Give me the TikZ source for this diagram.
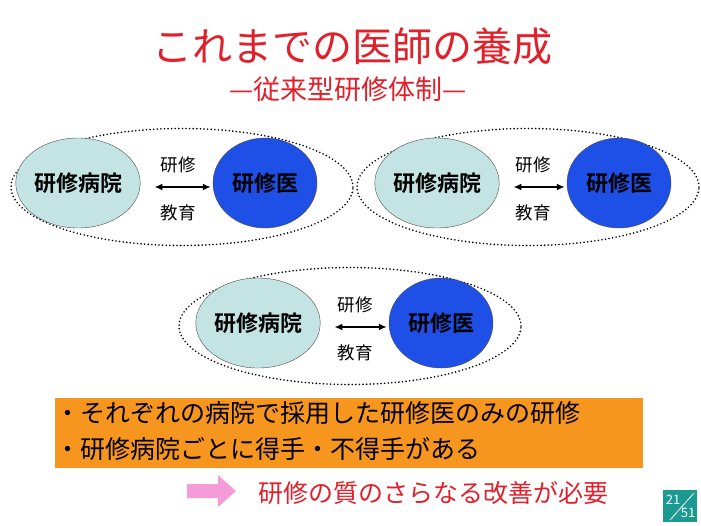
\documentclass[tikz,border=0pt]{standalone}
\usepackage{fontspec}
\setmainfont{Noto Sans CJK JP}
\newfontfamily\jpb{Noto Sans CJK JP Bold}
\usetikzlibrary{shapes.geometric,arrows.meta}
\definecolor{lcyan}{HTML}{C4E3E3}
\definecolor{dblue}{HTML}{1E4FE6}
\definecolor{tred}{HTML}{E0202A}
\definecolor{orng}{HTML}{F7961E}
\definecolor{pinkar}{HTML}{F59BD8}
\definecolor{teal}{HTML}{1A9A90}
\tikzset{
 outer/.style={draw,ellipse,dash pattern=on 0pt off 3.6pt,line cap=round,line width=1.8pt,minimum width=342pt,minimum height=117pt},
 hosp/.style={draw=black!70,ellipse,fill=lcyan,minimum width=100pt,minimum height=90pt,inner sep=0pt,font=\jpb\fontsize{22}{22}\selectfont},
 doc/.style={draw=black!70,ellipse,fill=dblue,minimum width=104pt,minimum height=90pt,inner sep=0pt,font=\jpb\fontsize{22}{22}\selectfont},
 lbl/.style={font=\fontsize{17.5}{17.5}\selectfont},
 dbl/.style={{Latex[length=8pt,width=7pt]}-{Latex[length=8pt,width=7pt]},line width=2.2pt},
 bul/.style={anchor=west,font=\fontsize{25}{25}\selectfont}
}
\begin{document}
\begin{tikzpicture}[x=1pt,y=-1pt]
\useasboundingbox[fill=white] (0,0) rectangle (701,525);
\node[text=tred,font=\fontsize{40}{40}\selectfont] (t) at (352,46) {これまでの医師の養成};
\node[text=tred,font=\fontsize{27}{27}\selectfont] (st) at (348,89) {—従来型研修体制—};
% group 1
\node[outer] (o1) at (182,187) {};
\node[hosp] (h1) at (78,183) {研修病院};
\node[doc] (d1) at (265,183) {研修医};
\path (h1.east) ++(14,4) coordinate (a1) (d1.west) ++(-2,4) coordinate (b1);
\draw[dbl] (a1) -- (b1);
\node[lbl] (k1) at (178,165) {研修};
\node[lbl] (e1) at (178,213) {教育};
% group 2
\node[outer] (o2) at (528,187) {};
\node[hosp] (h2) at (437,183) {研修病院};
\node[doc] (d2) at (619,183) {研修医};
\path (h2.east) ++(14,4) coordinate (a2) (d2.west) ++(-2,4) coordinate (b2);
\draw[dbl] (a2) -- (b2);
\node[lbl] (k2) at (533,165) {研修};
\node[lbl] (e2) at (533,213) {教育};
% group 3
\node[outer] (o3) at (350,326) {};
\node[hosp] (h3) at (258,323) {研修病院};
\node[doc] (d3) at (441,323) {研修医};
\path (h3.east) ++(14,4) coordinate (a3) (d3.west) ++(-2,4) coordinate (b3);
\draw[dbl] (a3) -- (b3);
\node[lbl] (k3) at (355,305) {研修};
\node[lbl] (e3) at (355,353) {教育};
% orange box
\fill[orng] (55,398) rectangle (643,468);
\node[bul] (l1) at (52,413) {・それぞれの病院で採用した研修医のみの研修};
\node[bul] (l2) at (52,449) {・研修病院ごとに得手・不得手がある};
% conclusion
\fill[pinkar] (187,484) -- (218,484) -- (218,475) -- (236,491) -- (218,507) -- (218,498) -- (187,498) -- cycle;
\node[text=tred,font=\fontsize{25}{25}\selectfont,anchor=west] (c) at (255,493) {研修の質のさらなる改善が必要};
% page number
\fill[teal] (663,490) rectangle (697,522);
\draw[white,line width=0.8pt] (670,520) -- (694,493);
\node[white,font=\fontsize{13}{13}\selectfont] (p1) at (673,500) {21};
\node[white,font=\fontsize{13}{13}\selectfont] (p2) at (688,513) {51};
\end{tikzpicture}
\end{document}
